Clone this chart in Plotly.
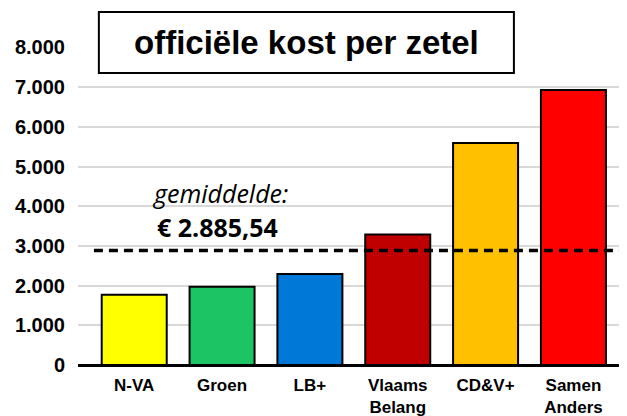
import plotly.graph_objects as go

parties = ["N-VA", "Groen", "LB+", "Vlaams<br>Belang", "CD&V+", "Samen<br>Anders"]
cost = [1770, 1970, 2295, 3285, 5590, 6930]
colors = ["#FFFF00", "#1CC463", "#0078D7", "#C00000", "#FFC000", "#FF0000"]
average = 2885.54
ytick_vals = [0, 1000, 2000, 3000, 4000, 5000, 6000, 7000, 8000]
ytick_text = ["0", "1.000", "2.000", "3.000", "4.000", "5.000", "6.000", "7.000", "8.000"]
title_text = "officiële kost per zetel"
avg_label = "gemiddelde:"
avg_value_text = "€ 2.885,54"

fig = go.Figure()
fig.add_trace(go.Bar(
    x=parties, y=cost,
    marker=dict(color=colors, line=dict(color="black", width=2)),
    width=0.74,
))

fig.update_layout(
    width=619, height=408,
    margin=dict(l=70, r=0, t=39, b=51),
    paper_bgcolor="white", plot_bgcolor="white",
    showlegend=False,
    font=dict(family="Liberation Sans, Arial, sans-serif", color="black"),
)
fig.update_xaxes(
    range=[-0.64, 5.61],
    tickfont=dict(size=17, family="Liberation Sans, Arial", weight="bold"),
    showgrid=False, showline=False, ticks="",
    ticklabelstandoff=8,
)
fig.update_yaxes(
    range=[0, 8010],
    tickvals=ytick_vals, ticktext=ytick_text,
    tickfont=dict(size=20, family="Liberation Sans, Arial", weight="bold"),
    showgrid=True, gridcolor="#D9D9D9", gridwidth=1.5,
    zeroline=True, zerolinecolor="black", zerolinewidth=2.5,
    ticklabelstandoff=12,
)

# average dashed line
fig.add_shape(type="line", xref="paper", yref="y", x0=0.029, x1=1, y0=average, y1=average,
              line=dict(color="black", width=3.5, dash="9px,6px"), layer="above")

# title box
fig.add_shape(type="rect", xref="paper", yref="paper", x0=0.038, x1=0.794, y0=0.918, y1=1.110,
              line=dict(color="black", width=2), fillcolor="white", layer="above")
fig.add_annotation(text=title_text, xref="paper", yref="paper", x=0.416, y=1.014,
                   showarrow=False, xanchor="center", yanchor="middle",
                   font=dict(size=33, family="Liberation Sans, Arial", weight="bold", color="black"))

fig.add_annotation(text=avg_label, xref="paper", yref="paper", x=0.259, y=0.541,
                   showarrow=False, xanchor="center", yanchor="middle",
                   font=dict(size=25, family="Open Sans", style="italic", color="black"))
fig.add_annotation(text=avg_value_text, xref="paper", yref="paper", x=0.255, y=0.434,
                   showarrow=False, xanchor="center", yanchor="middle",
                   font=dict(size=25, family="Open Sans", weight="bold", color="black"))

fig.write_html("out.html")
